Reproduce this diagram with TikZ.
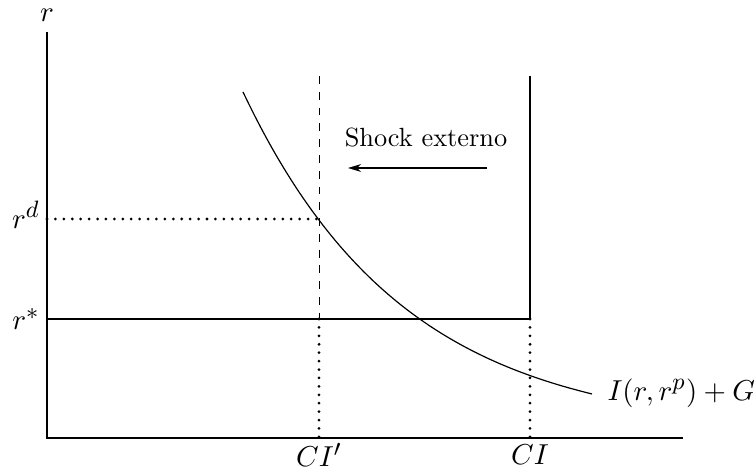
\documentclass[tikz,border=0pt]{standalone}
\usetikzlibrary{arrows.meta}
\DeclareMathSizes{11.2}{11.2}{9}{7}
\begin{document}
\begin{tikzpicture}[x=0.38pt,y=-0.38pt,
  axis/.style={line width=0.5pt},
  dotline/.style={line width=1.15pt, dash pattern=on 0pt off 3.2pt, line cap=round},
  curve/.style={line width=0.45pt},
  lbl/.style={inner sep=0pt},
  mlbl/.style={inner sep=0pt, font=\fontsize{11.2}{13}\selectfont}]
\useasboundingbox (0,0) rectangle (756,472);
% axes
\coordinate (O) at (47,438);
\coordinate (ytop) at (47,32);
\coordinate (xend) at (683,438);
\draw[axis] (ytop) -- (O) -- (xend);
% key points
\coordinate (rs) at (47,319);
\coordinate (rd) at (47,219);
\coordinate (A) at (319,219);
\coordinate (B) at (319,319);
\coordinate (C) at (530,319);
\coordinate (Bt) at (319,76);
\coordinate (Ct) at (530,76);
\coordinate (Bb) at (319,438);
\coordinate (Cb) at (530,438);
% r* horizontal
\draw[axis] (rs) -- (C);
% r^d dotted
\draw[dotline] (rd) -- (A);
% verticals
\draw[line width=0.35pt, dashed] (Bt) -- (B);
\draw[axis] (Ct) -- (C);
\draw[dotline] (B) -- (Bb);
\draw[dotline] (C) -- (Cb);
% curve
\draw[curve] plot[domain=243:592, samples=80] (\x, {433.2 - 341.2*exp(-0.0062*(\x-243))});
% arrow
\coordinate (arS) at (487,168);
\coordinate (arE) at (348,168);
\draw[line width=0.45pt, -{Stealth[length=5pt,width=3pt]}] (arS) -- (arE);
% labels
\node[lbl] (shock) at (426,138) {Shock externo};
\node[mlbl] (rlab) at (47,15) {$r$};
\node[mlbl] (rdlab) at (26,215) {$r^d$};
\node[mlbl] (rslab) at (26,319) {$r^*$};
\node[mlbl] (cip) at (319,455) {$CI'$};
\node[mlbl] (ci) at (530,455) {$CI$};
\node[mlbl, anchor=west] (ilab) at (607,393) {$I(r,r^p)+G$};
\end{tikzpicture}
\end{document}
